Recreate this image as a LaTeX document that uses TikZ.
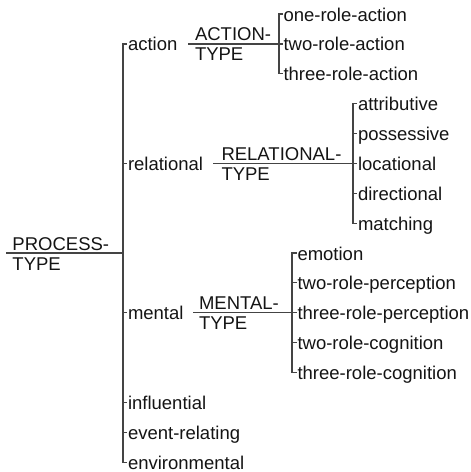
\documentclass[tikz,border=0pt]{standalone}
\usepackage{fontspec}
\setmainfont{Liberation Sans}
\definecolor{linecol}{RGB}{68,68,68}
\definecolor{txtcol}{RGB}{20,20,20}
\begin{document}
\begin{tikzpicture}[x=1pt,y=-1pt,
  conn/.style={draw=linecol,line width=1.2pt,line join=miter},
  lbl/.style={anchor=base west,inner sep=0pt,outer sep=0pt,text=txtcol,font=\fontsize{18.5}{22}\selectfont}]
\useasboundingbox (0,0) rectangle (471,472);
% ---------- main system: PROCESS-TYPE ----------
\coordinate (PL) at (6,253.0);
\coordinate (PM) at (123,253.0);
\node[lbl] (proc1) at (12.5,250.0) {PROCESS-};
\node[lbl] (proc2) at (12.5,270.0) {TYPE};
\coordinate (M1)  at (123,43.9);
\coordinate (M5)  at (123,163.4);
\coordinate (M10) at (123,312.7);
\coordinate (M13) at (123,402.3);
\coordinate (M14) at (123,432.2);
\coordinate (M15) at (123,462.1);
\node[lbl] (action)      at (128,50.9)  {action};
\node[lbl] (relational)  at (128,170.4) {relational};
\node[lbl] (mental)      at (128,319.7) {mental};
\node[lbl] (influential) at (128,409.3) {influential};
\node[lbl] (eventrel)    at (128,439.2) {event-relating};
\node[lbl] (environ)     at (128,469.1) {environmental};
\draw[conn] (PL) -- (PM);
\draw[conn,shorten <=0.8pt,shorten >=0.8pt] (M1 -| action.west) -- (M1) -- (M15) -- (M15 -| environ.west);
\draw[conn,shorten >=0.8pt] (M5) -- (M5 -| relational.west);
\draw[conn,shorten >=0.8pt] (M10) -- (M10 -| mental.west);
\draw[conn,shorten >=0.8pt] (M13) -- (M13 -| influential.west);
\draw[conn,shorten >=0.8pt] (M14) -- (M14 -| eventrel.west);
% ---------- ACTION-TYPE ----------
\coordinate (AL) at (188,43.9);
\coordinate (A0) at (279,14.0);
\coordinate (A1) at (279,43.9);
\coordinate (A2) at (279,73.7);
\node[lbl] (act1) at (195,40.9) {ACTION-};
\node[lbl] (act2) at (195,60.9) {TYPE};
\node[lbl] (one)   at (283.5,21.0) {one-role-action};
\node[lbl] (two)   at (283.5,50.9) {two-role-action};
\node[lbl] (three) at (283.5,80.7) {three-role-action};
\draw[conn] (AL) -- (A1);
\draw[conn,shorten <=0.8pt,shorten >=0.8pt] (A0 -| one.west) -- (A0) -- (A2) -- (A2 -| three.west);
\draw[conn,shorten >=0.8pt] (A1) -- (A1 -| two.west);
% ---------- RELATIONAL-TYPE ----------
\coordinate (RL) at (213,163.4);
\coordinate (R3) at (353,103.6);
\coordinate (R4) at (353,133.5);
\coordinate (R5) at (353,163.4);
\coordinate (R6) at (353,193.2);
\coordinate (R7) at (353,223.1);
\node[lbl] (rel1) at (221.5,160.4) {RELATIONAL-};
\node[lbl] (rel2) at (221.5,180.4) {TYPE};
\node[lbl] (attr) at (358,110.6) {attributive};
\node[lbl] (poss) at (358,140.5) {possessive};
\node[lbl] (loc)  at (358,170.4) {locational};
\node[lbl] (dir)  at (358,200.2) {directional};
\node[lbl] (mat)  at (358,230.1) {matching};
\draw[conn] (RL) -- (R5);
\draw[conn,shorten <=0.8pt,shorten >=0.8pt] (R3 -| attr.west) -- (R3) -- (R7) -- (R7 -| mat.west);
\draw[conn,shorten >=0.8pt] (R4) -- (R4 -| poss.west);
\draw[conn,shorten >=0.8pt] (R5) -- (R5 -| loc.west);
\draw[conn,shorten >=0.8pt] (R6) -- (R6 -| dir.west);
% ---------- MENTAL-TYPE ----------
\coordinate (NL) at (193,312.7);
\coordinate (N8)  at (292,253.0);
\coordinate (N9)  at (292,282.8);
\coordinate (N10) at (292,312.7);
\coordinate (N11) at (292,342.6);
\coordinate (N12) at (292,372.4);
\node[lbl] (men1) at (199,309.7) {MENTAL-};
\node[lbl] (men2) at (199,329.7) {TYPE};
\node[lbl] (emo)  at (297.5,260.0) {emotion};
\node[lbl] (twop) at (297.5,289.8) {two-role-perception};
\node[lbl] (thrp) at (297.5,319.7) {three-role-perception};
\node[lbl] (twoc) at (297.5,349.6) {two-role-cognition};
\node[lbl] (thrc) at (297.5,379.4) {three-role-cognition};
\draw[conn] (NL) -- (N10);
\draw[conn,shorten <=0.8pt,shorten >=0.8pt] (N8 -| emo.west) -- (N8) -- (N12) -- (N12 -| thrc.west);
\draw[conn,shorten >=0.8pt] (N9) -- (N9 -| twop.west);
\draw[conn,shorten >=0.8pt] (N10) -- (N10 -| thrp.west);
\draw[conn,shorten >=0.8pt] (N11) -- (N11 -| twoc.west);
\end{tikzpicture}
\end{document}
